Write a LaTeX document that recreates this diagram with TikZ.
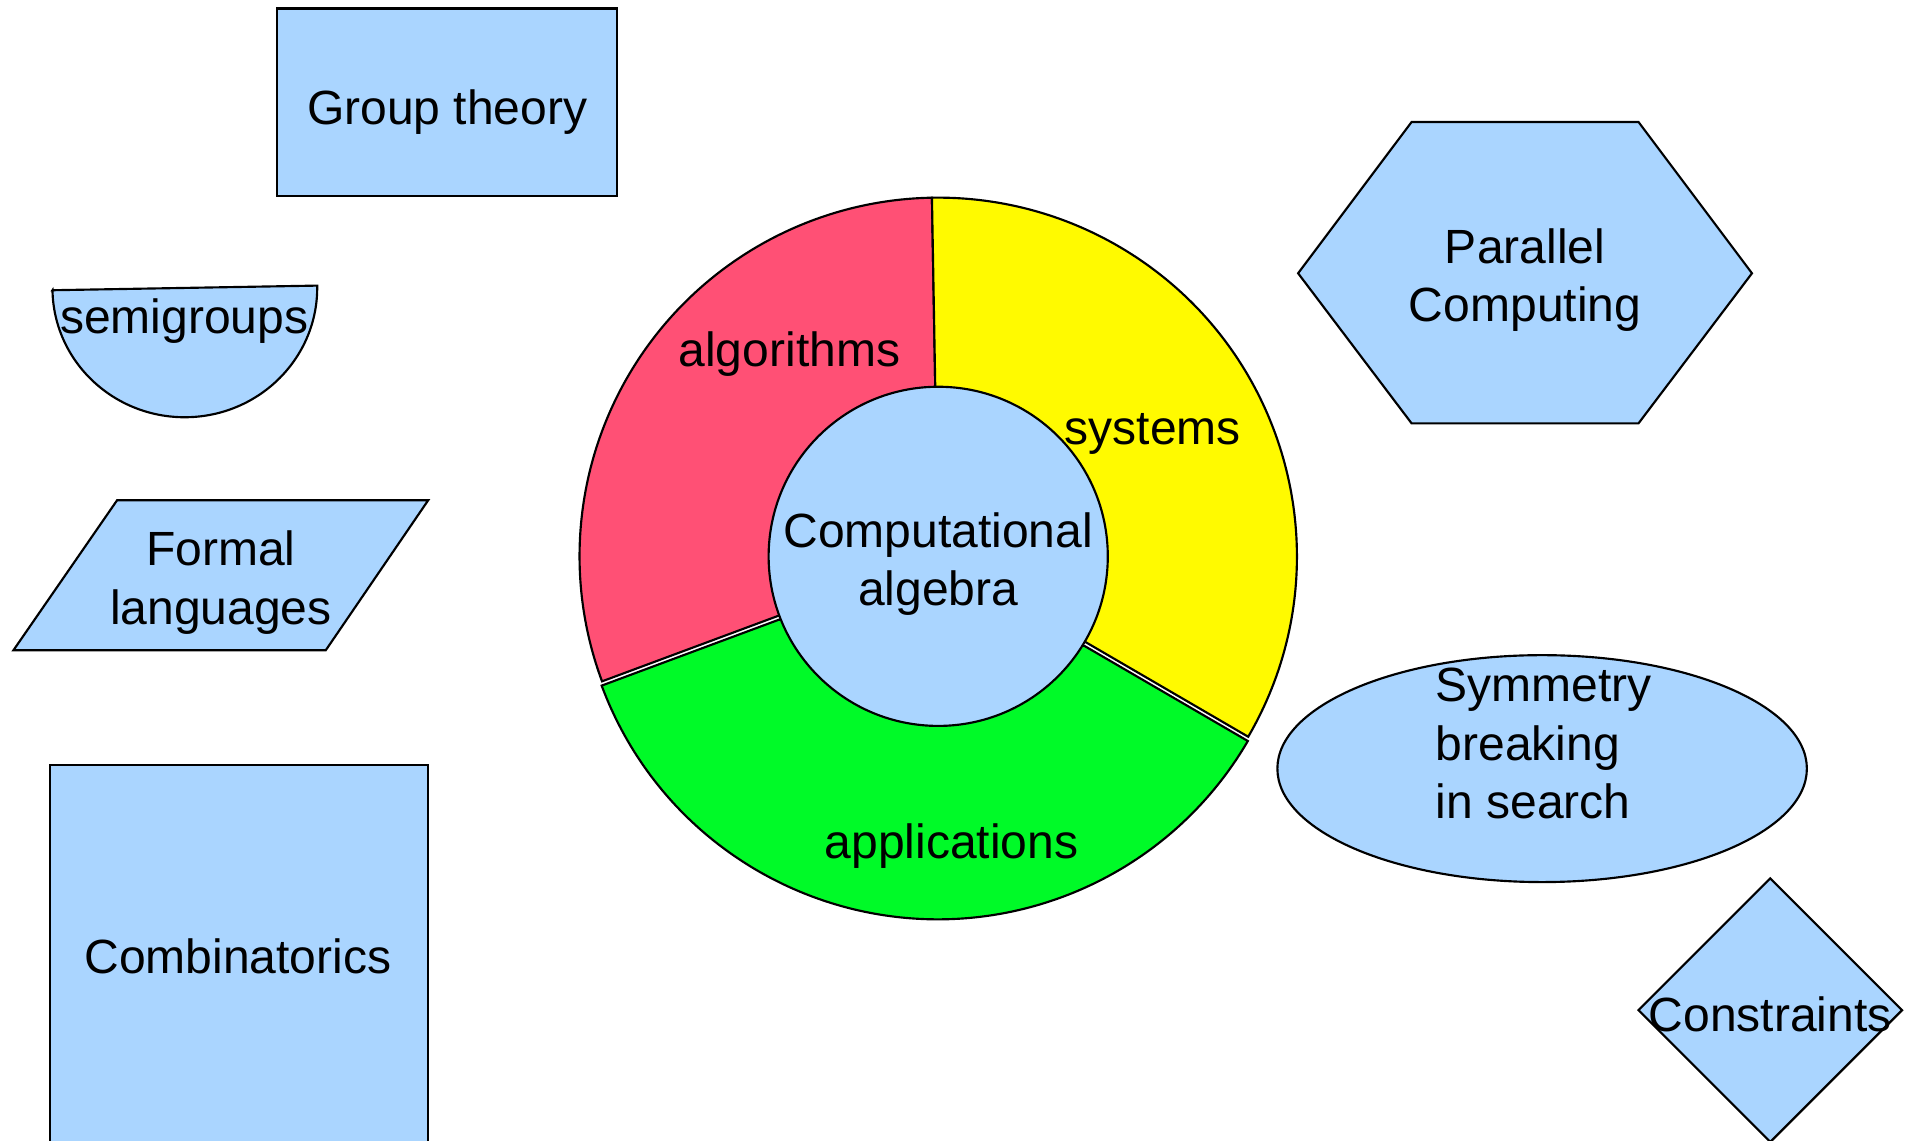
\documentclass[tikz,border=0pt]{standalone}
\usepackage{fontspec}
\setmainfont{Liberation Sans}

\definecolor{paleblue}{RGB}{170,213,255}
\definecolor{algred}{RGB}{255,80,117}
\definecolor{sysyellow}{RGB}{255,250,0}
\definecolor{appgreen}{RGB}{0,250,40}

\tikzset{
	blob/.style={draw=black, fill=paleblue, line width=0.5pt},
	ring/.style={draw=black, line width=0.5pt},
	word/.style={font=\fontsize{11.2}{13.6}\selectfont, inner sep=0pt, align=center}
}

\begin{document}
\begin{tikzpicture}
	\useasboundingbox (0,0) rectangle (15.68,9.35);
	\clip (0,0) rectangle (15.68,9.35);

	\filldraw[blob] (2.27,7.74) rectangle (5.06,9.28);
	\filldraw[blob, rotate around={1:(1.515,6.99)}] (0.43,6.99) -- (2.60,6.99) arc (0:-180:1.085 and 1.06) -- cycle;
	\filldraw[blob] (0.11,4.02) -- (2.67,4.02) -- (3.51,5.25) -- (0.96,5.25) -- cycle;
	\filldraw[blob] (0.41,-0.2) rectangle (3.51,3.08);

	\draw (3.665,8.435) node[word] (grp) {Group theory};
	\draw (1.51,6.715) node[word] (semi) {semigroups};
	\draw (1.81,4.575) node[word] (formal) {Formal\\languages};
	\draw (1.95,1.51) node[word] (comb) {Combinatorics};

	\begin{scope}[shift={(7.69,4.79)}]
		\filldraw[ring, fill=algred] (91:1.39) -- (91:2.94) arc (91:200.4:2.94) -- (200.4:1.39) -- cycle;
		\filldraw[ring, fill=sysyellow] (-30.2:1.39) -- (-30.2:2.94) arc (-30.2:91:2.94) -- (91:1.39) -- cycle;
		\filldraw[ring, fill=appgreen, shift={(265:0.035)}] (200.4:1.39) -- (200.4:2.94) arc (200.4:329.8:2.94) -- (329.8:1.39) -- cycle;
		\filldraw[blob] (0,0) circle (1.39);

		\draw (0,-0.065) node[word] (core) {Computational\\algebra};
		\draw (-1.22,1.655) node[word] (alg) {algorithms};
		\draw (1.76,1.0) node[word] (sys) {systems};
		\draw (0.11,-2.375) node[word] (app) {applications};
	\end{scope}

	\filldraw[blob] (11.57,8.35) -- (13.43,8.35) -- (14.36,7.11) -- (13.43,5.88) -- (11.57,5.88) -- (10.64,7.11) -- cycle;
	\filldraw[blob] (12.64,3.05) ellipse (2.17 and 0.93);
	\filldraw[blob] (14.51,2.15) -- (15.59,1.07) -- (14.51,-0.01) -- (13.43,1.07) -- cycle;

	\draw (12.50,7.055) node[word] (par) {Parallel\\Computing};
	\draw (11.76,3.255) node[word, anchor=west, align=left] (sym) {Symmetry\\breaking\\in search};
	\draw (14.51,1.04) node[word] (cons) {Constraints};
\end{tikzpicture}
\end{document}
